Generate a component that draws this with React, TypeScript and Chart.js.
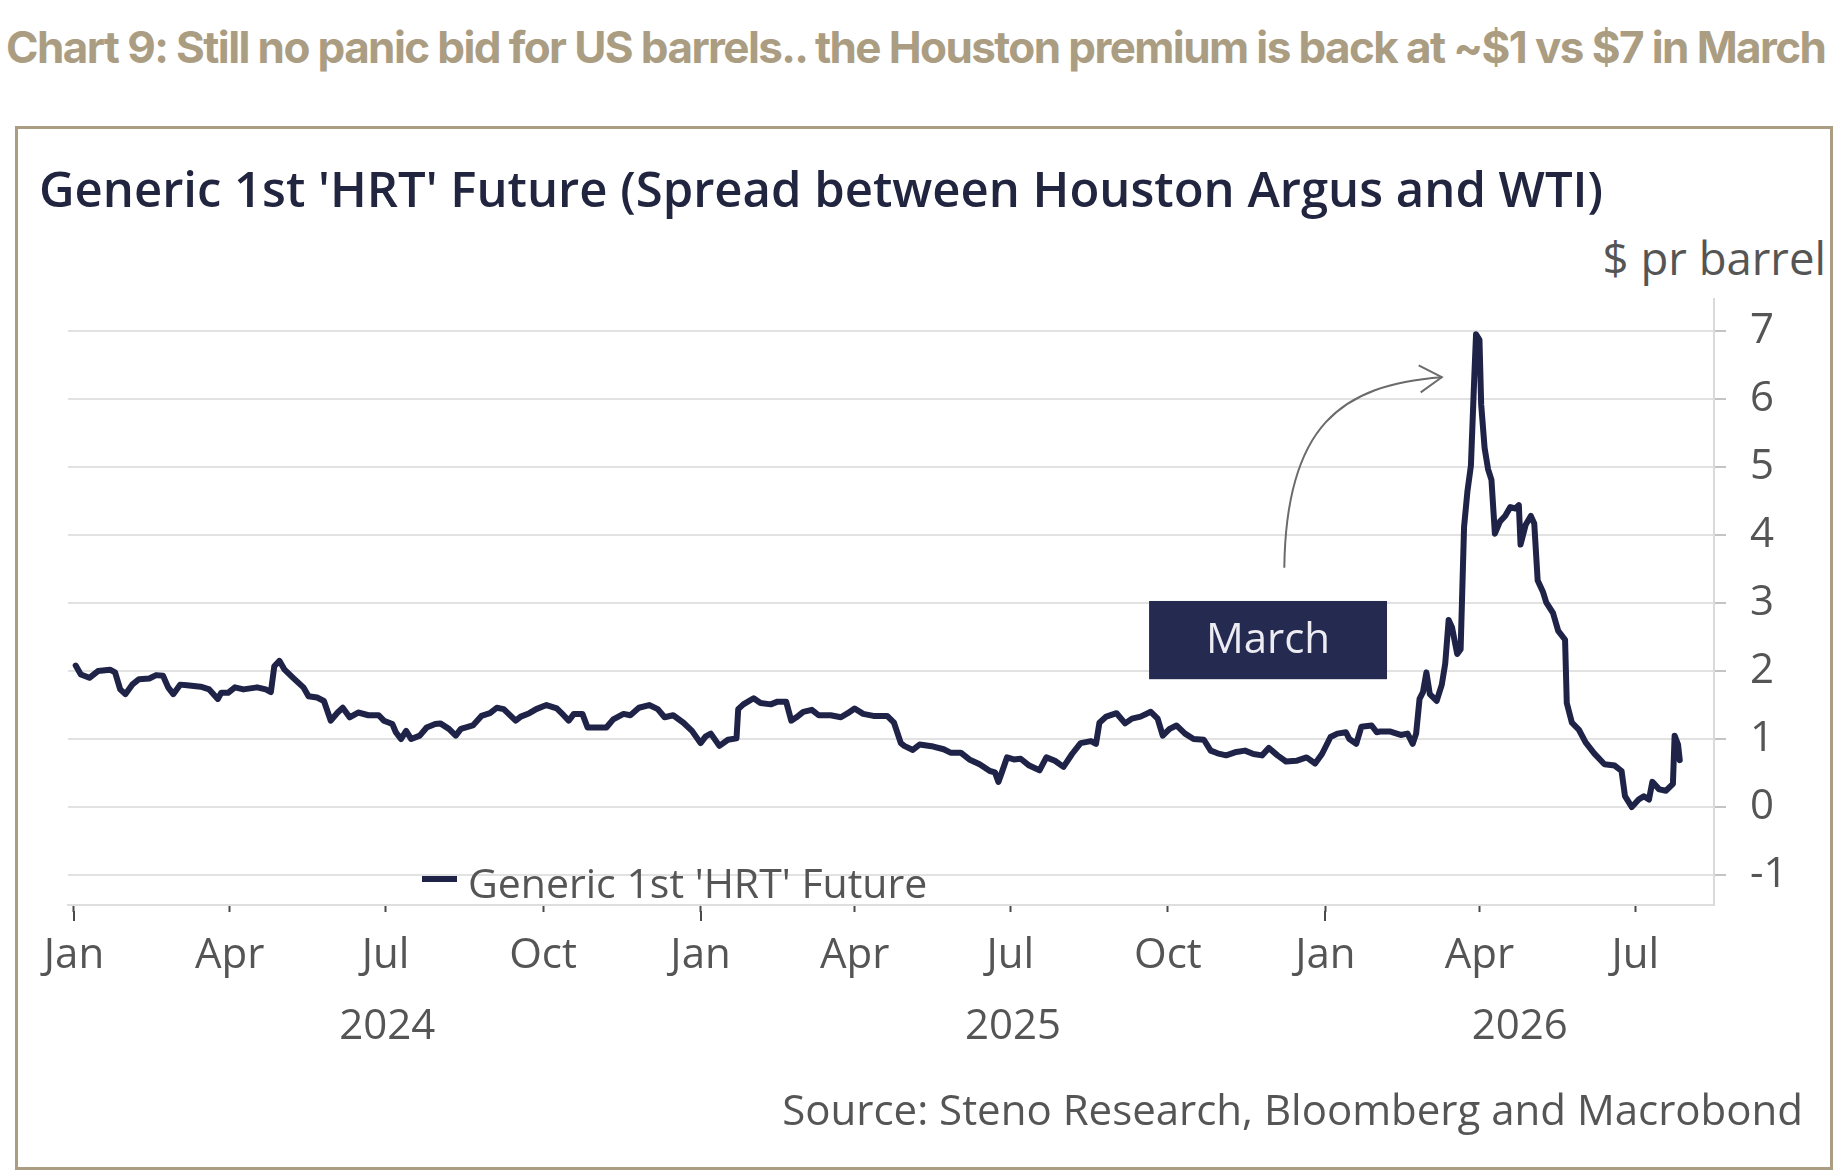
import { useEffect, useRef } from "react";
import { Chart, registerables } from "chart.js";

Chart.register(...registerables);

// ---------- DATA (days since 2024-01-01, $ per barrel) ----------
const days2024 = [1, 4, 9, 14, 21, 24, 27, 30, 34, 38, 44, 48, 52, 55, 58, 62, 66, 74, 79, 84, 86, 90, 94, 99, 107, 112, 115, 117, 120, 123, 128, 134, 137, 142, 146, 150, 154, 157, 161, 166, 172, 178, 181, 186, 188, 191, 194, 197, 202, 206, 211, 214, 219, 223, 226, 233, 238, 243, 247, 251, 258, 261, 266, 270, 276, 282, 286, 289, 292, 297, 300, 305, 311, 315, 321, 325, 330, 336, 341, 345, 350, 356, 361];
const spread2024 = [2.08, 1.95, 1.9, 2.0, 2.02, 1.98, 1.73, 1.66, 1.8, 1.88, 1.89, 1.94, 1.93, 1.76, 1.66, 1.8, 1.79, 1.77, 1.73, 1.59, 1.68, 1.68, 1.76, 1.73, 1.76, 1.73, 1.69, 2.07, 2.15, 2.02, 1.9, 1.76, 1.63, 1.61, 1.56, 1.27, 1.39, 1.46, 1.32, 1.39, 1.35, 1.35, 1.27, 1.22, 1.1, 1.0, 1.12, 1.0, 1.05, 1.17, 1.22, 1.23, 1.15, 1.05, 1.15, 1.2, 1.34, 1.38, 1.46, 1.44, 1.27, 1.33, 1.38, 1.44, 1.5, 1.45, 1.35, 1.27, 1.37, 1.37, 1.17, 1.17, 1.17, 1.29, 1.37, 1.35, 1.46, 1.5, 1.44, 1.32, 1.35, 1.24, 1.12];

const days2025 = [366, 369, 372, 377, 382, 387, 388, 391, 397, 401, 407, 411, 416, 419, 422, 426, 431, 435, 442, 448, 452, 456, 461, 467, 475, 479, 483, 485, 490, 494, 502, 508, 512, 518, 523, 529, 535, 538, 540, 542, 545, 549, 553, 558, 564, 568, 573, 578, 583, 588, 594, 597, 599, 603, 609, 614, 618, 623, 629, 633, 636, 640, 644, 649, 654, 660, 664, 668, 673, 679, 684, 689, 694, 698, 703, 708, 714, 720, 725, 729];
const spread2025 = [0.94, 1.04, 1.08, 0.9, 0.99, 1.01, 1.44, 1.51, 1.6, 1.53, 1.51, 1.55, 1.55, 1.27, 1.32, 1.4, 1.43, 1.35, 1.35, 1.32, 1.38, 1.45, 1.37, 1.34, 1.34, 1.24, 0.94, 0.9, 0.84, 0.92, 0.89, 0.85, 0.8, 0.8, 0.7, 0.63, 0.53, 0.51, 0.37, 0.51, 0.73, 0.7, 0.71, 0.61, 0.54, 0.73, 0.68, 0.59, 0.78, 0.94, 0.97, 0.93, 1.24, 1.33, 1.38, 1.23, 1.3, 1.33, 1.4, 1.3, 1.05, 1.15, 1.2, 1.08, 1.0, 0.99, 0.83, 0.79, 0.76, 0.81, 0.83, 0.78, 0.76, 0.87, 0.76, 0.67, 0.68, 0.73, 0.64, 0.78];

const days2026 = [734, 738, 743, 745, 749, 752, 758, 761, 763, 769, 775, 779, 782, 784, 786, 788, 790, 792, 796, 799, 801, 803, 805, 808, 810, 812, 814, 816, 818, 819, 821, 822, 824, 826, 828, 830, 833, 836, 839, 842, 844, 845, 848, 851, 853, 855, 858, 860, 864, 867, 871, 872, 875, 879, 883, 888, 894, 900, 904, 906, 910, 914, 917, 920, 922, 926, 930, 934, 935, 937, 938];
const spread2026 = [1.03, 1.08, 1.1, 1.0, 0.93, 1.18, 1.2, 1.1, 1.11, 1.11, 1.06, 1.08, 0.93, 1.08, 1.59, 1.69, 1.98, 1.66, 1.56, 1.8, 2.11, 2.75, 2.64, 2.25, 2.32, 4.12, 4.65, 5.02, 6.34, 6.95, 6.87, 5.92, 5.28, 4.97, 4.81, 4.02, 4.2, 4.28, 4.41, 4.39, 4.44, 3.86, 4.15, 4.28, 4.17, 3.33, 3.17, 3.01, 2.85, 2.59, 2.46, 1.53, 1.24, 1.14, 0.95, 0.79, 0.63, 0.61, 0.53, 0.16, 0.0, 0.11, 0.16, 0.11, 0.37, 0.26, 0.24, 0.34, 1.05, 0.92, 0.69];

const quarterTickDays = [0, 91, 182, 274, 366, 456, 547, 639, 731, 821, 912];
const quarterTickLabels = ["Jan", "Apr", "Jul", "Oct", "Jan", "Apr", "Jul", "Oct", "Jan", "Apr", "Jul"];
const yearLabels = ["2024", "2025", "2026"];
const yearStartDays = [0, 366, 731];
const yTickValues = [-1, 0, 1, 2, 3, 4, 5, 6, 7];

const X_MIN = -3.5;
const X_MAX = 958;
const Y_MIN = -1.44;
const Y_MAX = 7.47;

const SERIES_LABEL = "Generic 1st 'HRT' Future";
const ANNOTATION_TEXT = "March";
// annotation box / arrow in data coordinates (day, value)
const marchBox = { d0: 628, d1: 767, v0: 1.88, v1: 3.03 };
const arrowPath = { start: [707, 3.52], c1: [708, 5.6], c2: [740, 6.21], end: [799, 6.32] };

// ---------- STYLE ----------
const W = 1840;
const H = 1172;
const NAVY = "#1f2347";
const TAN = "#ab9d82";
const GREY_TEXT = "#555555";
const FONT = "'Open Sans', 'Noto Sans', sans-serif";

const CHART_LEFT = 68;
const CHART_RIGHT = 1714;
const CHART_TOP = 299;
const CHART_BOTTOM = 905;
const Y_AXIS_W = 100;
const X_AXIS_H = 140;

const overlayPlugin = {
  id: "overlay",
  afterDraw(chart: any) {
    const { ctx, scales } = chart;
    const xs = scales.x;
    const ys = scales.y;
    ctx.save();

    // longer tick marks at year starts
    ctx.strokeStyle = "#4a4a4a";
    ctx.lineWidth = 2;
    yearStartDays.forEach((d) => {
      const px = Math.round(xs.getPixelForValue(d));
      ctx.beginPath();
      ctx.moveTo(px, ys.bottom + 6);
      ctx.lineTo(px, ys.bottom + 16);
      ctx.stroke();
    });

    // year labels centred on the span of each year
    ctx.fillStyle = GREY_TEXT;
    ctx.font = `400 42px ${FONT}`;
    ctx.textAlign = "center";
    ctx.textBaseline = "middle";
    yearLabels.forEach((lab, i) => {
      const a = yearStartDays[i];
      const b = i + 1 < yearStartDays.length ? yearStartDays[i + 1] : X_MAX;
      const cx = (xs.getPixelForValue(a) + xs.getPixelForValue(b)) / 2;
      ctx.fillText(lab, cx, 1027);
    });

    // March box
    const bx0 = xs.getPixelForValue(marchBox.d0);
    const bx1 = xs.getPixelForValue(marchBox.d1);
    const by0 = ys.getPixelForValue(marchBox.v1);
    const by1 = ys.getPixelForValue(marchBox.v0);
    ctx.fillStyle = "#252a50";
    ctx.fillRect(bx0, by0, bx1 - bx0, by1 - by0);
    ctx.fillStyle = "#ececf2";
    ctx.font = `400 42px ${FONT}`;
    ctx.fillText(ANNOTATION_TEXT, (bx0 + bx1) / 2, (by0 + by1) / 2 + 1);

    // curved arrow
    const P = (p: number[]) => [xs.getPixelForValue(p[0]), ys.getPixelForValue(p[1])];
    const s = P(arrowPath.start);
    const c1 = P(arrowPath.c1);
    const c2 = P(arrowPath.c2);
    const e = P(arrowPath.end);
    ctx.strokeStyle = "#6b6b6b";
    ctx.lineWidth = 2;
    ctx.beginPath();
    ctx.moveTo(s[0], s[1]);
    ctx.bezierCurveTo(c1[0], c1[1], c2[0], c2[1], e[0], e[1]);
    ctx.stroke();
    const ang = Math.atan2(e[1] - c2[1], e[0] - c2[0]);
    const L = 26;
    ctx.beginPath();
    ctx.moveTo(e[0] - L * Math.cos(ang - 0.55), e[1] - L * Math.sin(ang - 0.55));
    ctx.lineTo(e[0], e[1]);
    ctx.lineTo(e[0] - L * Math.cos(ang + 0.55), e[1] - L * Math.sin(ang + 0.55));
    ctx.stroke();
    ctx.restore();
  },
};

function textBox(
  text: string,
  opts: { left?: number; right?: number; cy: number; size: number; weight?: number; color: string; family?: string; spacing?: number }
) {
  const lh = Math.round(opts.size * 1.3);
  const style: any = {
    position: "absolute",
    top: opts.cy - lh / 2,
    height: lh,
    lineHeight: `${lh}px`,
    fontSize: opts.size,
    fontWeight: opts.weight ?? 400,
    color: opts.color,
    fontFamily: opts.family ?? FONT,
    whiteSpace: "nowrap",
    letterSpacing: opts.spacing ?? 0,
  };
  if (opts.left !== undefined) style.left = opts.left;
  if (opts.right !== undefined) style.right = W - opts.right;
  return <div style={style}>{text}</div>;
}

export default function App() {
  const ref = useRef<HTMLCanvasElement>(null);

  useEffect(() => {
    const allDays = [...days2024, ...days2025, ...days2026];
    const allValues = [...spread2024, ...spread2025, ...spread2026];
    const chart = new Chart(ref.current as HTMLCanvasElement, {
      type: "line",
      data: {
        datasets: [
          {
            label: SERIES_LABEL,
            data: allDays.map((d, i) => ({ x: d, y: allValues[i] })),
            borderColor: NAVY,
            backgroundColor: NAVY,
            borderWidth: 6,
            pointRadius: 0,
            tension: 0,
            borderJoinStyle: "round",
            borderCapStyle: "round",
          },
        ],
      },
      options: {
        responsive: false,
        animation: false,
        events: [],
        layout: {
          padding: {
            left: CHART_LEFT,
            top: CHART_TOP,
            right: W - CHART_RIGHT - Y_AXIS_W,
            bottom: H - CHART_BOTTOM - X_AXIS_H,
          },
        },
        plugins: {
          legend: { display: false },
          tooltip: { enabled: false },
          title: { display: false },
        },
        scales: {
          x: {
            type: "linear",
            min: X_MIN,
            max: X_MAX,
            afterBuildTicks: (scale: any) => {
              scale.ticks = quarterTickDays.map((v) => ({ value: v }));
            },
            afterFit: (scale: any) => {
              scale.height = X_AXIS_H;
            },
            ticks: {
              autoSkip: false,
              maxRotation: 0,
              minRotation: 0,
              padding: 19,
              color: GREY_TEXT,
              font: { family: FONT, size: 42, weight: "400" },
              callback: (v: any) => {
                const i = quarterTickDays.indexOf(Number(v));
                return i >= 0 ? quarterTickLabels[i] : "";
              },
            },
            grid: {
              drawOnChartArea: false,
              drawTicks: true,
              tickLength: 7,
              tickColor: "#4a4a4a",
              tickWidth: 2,
            },
            border: { display: true, color: "#dedede", width: 2 },
          },
          y: {
            type: "linear",
            position: "right",
            min: Y_MIN,
            max: Y_MAX,
            afterBuildTicks: (scale: any) => {
              scale.ticks = yTickValues.map((v) => ({ value: v }));
            },
            afterFit: (scale: any) => {
              scale.width = Y_AXIS_W;
            },
            ticks: {
              padding: 24,
              color: GREY_TEXT,
              font: { family: FONT, size: 42, weight: "400" },
            },
            grid: {
              color: "#e2e2e2",
              lineWidth: 2,
              drawTicks: true,
              tickLength: 12,
              tickColor: "#c4c4c4",
            },
            border: { display: true, color: "#dadada", width: 2 },
          },
        },
      },
      plugins: [overlayPlugin],
    } as any);
    return () => chart.destroy();
  }, []);

  return (
    <div
      style={{
        position: "absolute",
        left: 0,
        top: 0,
        width: W,
        height: H,
        background: "#ffffff",
        overflow: "hidden",
      }}
    >
      {textBox("Chart 9: Still no panic bid for US barrels.. the Houston premium is back at ~$1 vs $7 in March", {
        left: 6,
        cy: 47,
        size: 44,
        weight: 700,
        color: TAN,
        family: "Inter, 'Noto Sans', sans-serif",
        spacing: -1.6,
      })}
      <div
        style={{
          position: "absolute",
          left: 15,
          top: 126,
          width: 1818,
          height: 1044,
          border: `3px solid ${TAN}`,
          boxSizing: "border-box",
        }}
      />
      {textBox("Generic 1st 'HRT' Future (Spread between Houston Argus and WTI)", {
        left: 39,
        cy: 188,
        size: 49,
        weight: 600,
        color: "#22253f",
      })}
      {textBox("$ pr barrel", { right: 1826, cy: 257, size: 45.5, color: GREY_TEXT })}
      <canvas
        ref={ref}
        width={W}
        height={H}
        style={{ position: "absolute", left: 0, top: 0, width: W, height: H }}
      />
      <div
        style={{
          position: "absolute",
          left: 422,
          top: 876,
          width: 35,
          height: 6,
          background: NAVY,
        }}
      />
      {textBox(SERIES_LABEL, { left: 468, cy: 882, size: 41, color: GREY_TEXT })}
      {textBox("Source: Steno Research, Bloomberg and Macrobond", {
        right: 1803,
        cy: 1108,
        size: 42,
        color: GREY_TEXT,
      })}
    </div>
  );
}
